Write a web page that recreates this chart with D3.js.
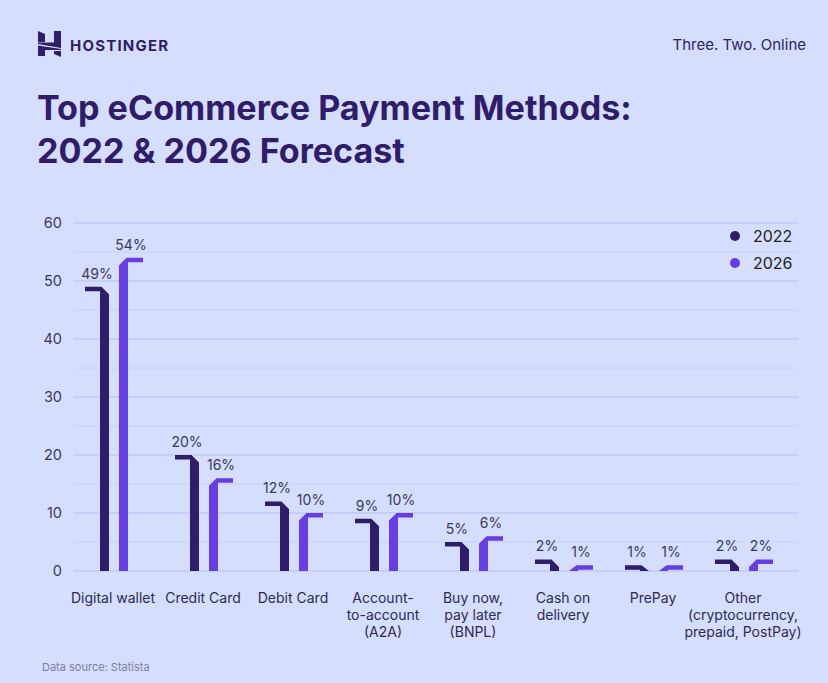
<!DOCTYPE html>
<html><head><meta charset="utf-8">
<script src="https://cdn.jsdelivr.net/npm/d3@7"></script>
<style>
html,body{margin:0;padding:0;background:#d5defc;}
svg{display:block;font-family:Inter, "Noto Sans", sans-serif;}
</style></head>
<body>
<svg id="chart" width="828" height="683"></svg>
<script>
const categories = ["Digital wallet","Credit Card","Debit Card","Account-to-account (A2A)","Buy now, pay later (BNPL)","Cash on delivery","PrePay","Other (cryptocurrency, prepaid, PostPay)"];
const categoryLines = [["Digital wallet"],["Credit Card"],["Debit Card"],["Account-","to-account","(A2A)"],["Buy now,","pay later","(BNPL)"],["Cash on","delivery"],["PrePay"],["Other","(cryptocurrency,","prepaid, PostPay)"]];
const values2022 = [49,20,12,9,5,2,1,2];
const values2026 = [54,16,10,10,6,1,1,2];
const seriesNames = ["2022","2026"];
const yTicks = [0,10,20,30,40,50,60];
const yMinor = [5,15,25,35,45,55];

const C_DARK = "#2f1c6a", C_LIGHT = "#673de6", BG = "#d5defc";
const svg = d3.select("#chart");
svg.append("rect").attr("width",828).attr("height",683).attr("fill",BG);

// header
const logo = svg.append("g").attr("fill",C_DARK);
logo.append("path").attr("d","M38,31 L45,34 L45,42 L38,42 Z");
logo.append("path").attr("d","M54,31 L61,31 L61,48 L38,44 L38,42.5 L54,42.5 Z");
logo.append("path").attr("d","M38,45.5 L61,49 L61,50 L45,50 L45,56 L38,56 Z");
logo.append("path").attr("d","M54,51 L61,51 L61,57 L54,54 Z");
svg.append("text").attr("x",70).attr("y",50.5).text("HOSTINGER")
  .attr("fill",C_DARK).attr("font-size",15).attr("font-weight",700).attr("letter-spacing",1.2);
svg.append("text").attr("x",806).attr("y",50).attr("text-anchor","end").text("Three. Two. Online")
  .attr("fill",C_DARK).attr("font-size",15).attr("font-weight",400);

function fitTitle(sel, target){
  let fs = 33; sel.attr("font-size",fs);
  const w = sel.node().getComputedTextLength();
  if (w > 0) sel.attr("font-size", Math.max(26, Math.min(38, fs*target/w)));
}
const t1 = svg.append("text").attr("x",37).attr("y",120).text("Top eCommerce Payment Methods:")
  .attr("fill",C_DARK).attr("font-weight",700);
const t2 = svg.append("text").attr("x",37).attr("y",163).text("2022 & 2026 Forecast")
  .attr("fill",C_DARK).attr("font-weight",700);
fitTitle(t1, 595);
t2.attr("font-size", t1.attr("font-size"));

// scales
const y = d3.scaleLinear().domain([0,60]).range([571,223]);
const x = d3.scaleBand().domain(categories).range([68,788]).padding(0);
const gridL = 74, gridR = 798;

// gridlines
svg.append("g").selectAll("line.minor").data(yMinor).join("line")
  .attr("x1",gridL).attr("x2",gridR).attr("y1",d=>y(d)).attr("y2",d=>y(d))
  .attr("stroke","#c8d0f8").attr("stroke-width",1);
svg.append("g").selectAll("line.major").data(yTicks).join("line")
  .attr("x1",gridL).attr("x2",gridR).attr("y1",d=>y(d)).attr("y2",d=>y(d))
  .attr("stroke","#b5bff2").attr("stroke-width",1);

// y axis labels via d3 axis
const yAxis = svg.append("g").attr("transform",`translate(${gridL},0)`)
  .call(d3.axisLeft(y).tickValues(yTicks).tickSize(0).tickPadding(12).tickFormat(d3.format("d")));
yAxis.select(".domain").remove();
yAxis.selectAll("text").attr("fill","#3b3763").attr("font-size",14.5).attr("font-family","Inter, sans-serif");

// bars
const stemW = 9, capExt = 15, thick = 4.5, ch = 7.5;
const base = y(0);
function clampY(v){ return Math.min(v, base); }
function darkPath(cx, v){
  const y0 = y(v), sr = cx-4, sl = sr-stemW, cl = sl-capExt;
  const pts = [[cl,y0],[sr-ch,y0],[sr,y0+ch],[sr,base],[sl,base],[sl,y0+thick],[cl,y0+thick]];
  return "M"+pts.map(p=>[p[0],clampY(p[1])].join(",")).join("L")+"Z";
}
function lightPath(cx, v){
  const y0 = y(v), sl = cx+6, sr = sl+stemW, cr = sr+capExt;
  const pts = [[cr,y0],[sl+ch,y0],[sl,y0+ch],[sl,base],[sr,base],[sr,y0+thick],[cr,y0+thick]];
  return "M"+pts.map(p=>[p[0],clampY(p[1])].join(",")).join("L")+"Z";
}
const cx = d => x(d)+x.bandwidth()/2;
const groups = svg.append("g").selectAll("g").data(categories).join("g");
groups.append("path").attr("d",(d,i)=>darkPath(cx(d),values2022[i])).attr("fill",C_DARK);
groups.append("path").attr("d",(d,i)=>lightPath(cx(d),values2026[i])).attr("fill",C_LIGHT);
groups.append("text").attr("x",d=>cx(d)-16).attr("y",(d,i)=>y(values2022[i])-8)
  .attr("text-anchor","middle").text((d,i)=>values2022[i]+"%")
  .attr("fill","#3b3763").attr("font-size",14);
groups.append("text").attr("x",d=>cx(d)+18).attr("y",(d,i)=>y(values2026[i])-8)
  .attr("text-anchor","middle").text((d,i)=>values2026[i]+"%")
  .attr("fill","#3b3763").attr("font-size",14);

// x labels
groups.each(function(d,i){
  const t = d3.select(this).append("text").attr("text-anchor","middle")
    .attr("fill","#2d2a55").attr("font-size",14);
  categoryLines[i].forEach((ln,j)=>{
    t.append("tspan").attr("x",cx(d)).attr("y",603+j*17).text(ln);
  });
});

// legend
const leg = svg.append("g");
seriesNames.forEach((s,i)=>{
  leg.append("circle").attr("cx",735).attr("cy",236+i*27).attr("r",5).attr("fill",i?C_LIGHT:C_DARK);
  leg.append("text").attr("x",753).attr("y",242+i*27).text(s).attr("fill","#222").attr("font-size",16);
});

svg.append("text").attr("x",42).attr("y",671).text("Data source: Statista")
  .attr("fill","#7d7f9e").attr("font-size",11);
</script>
</body></html>
